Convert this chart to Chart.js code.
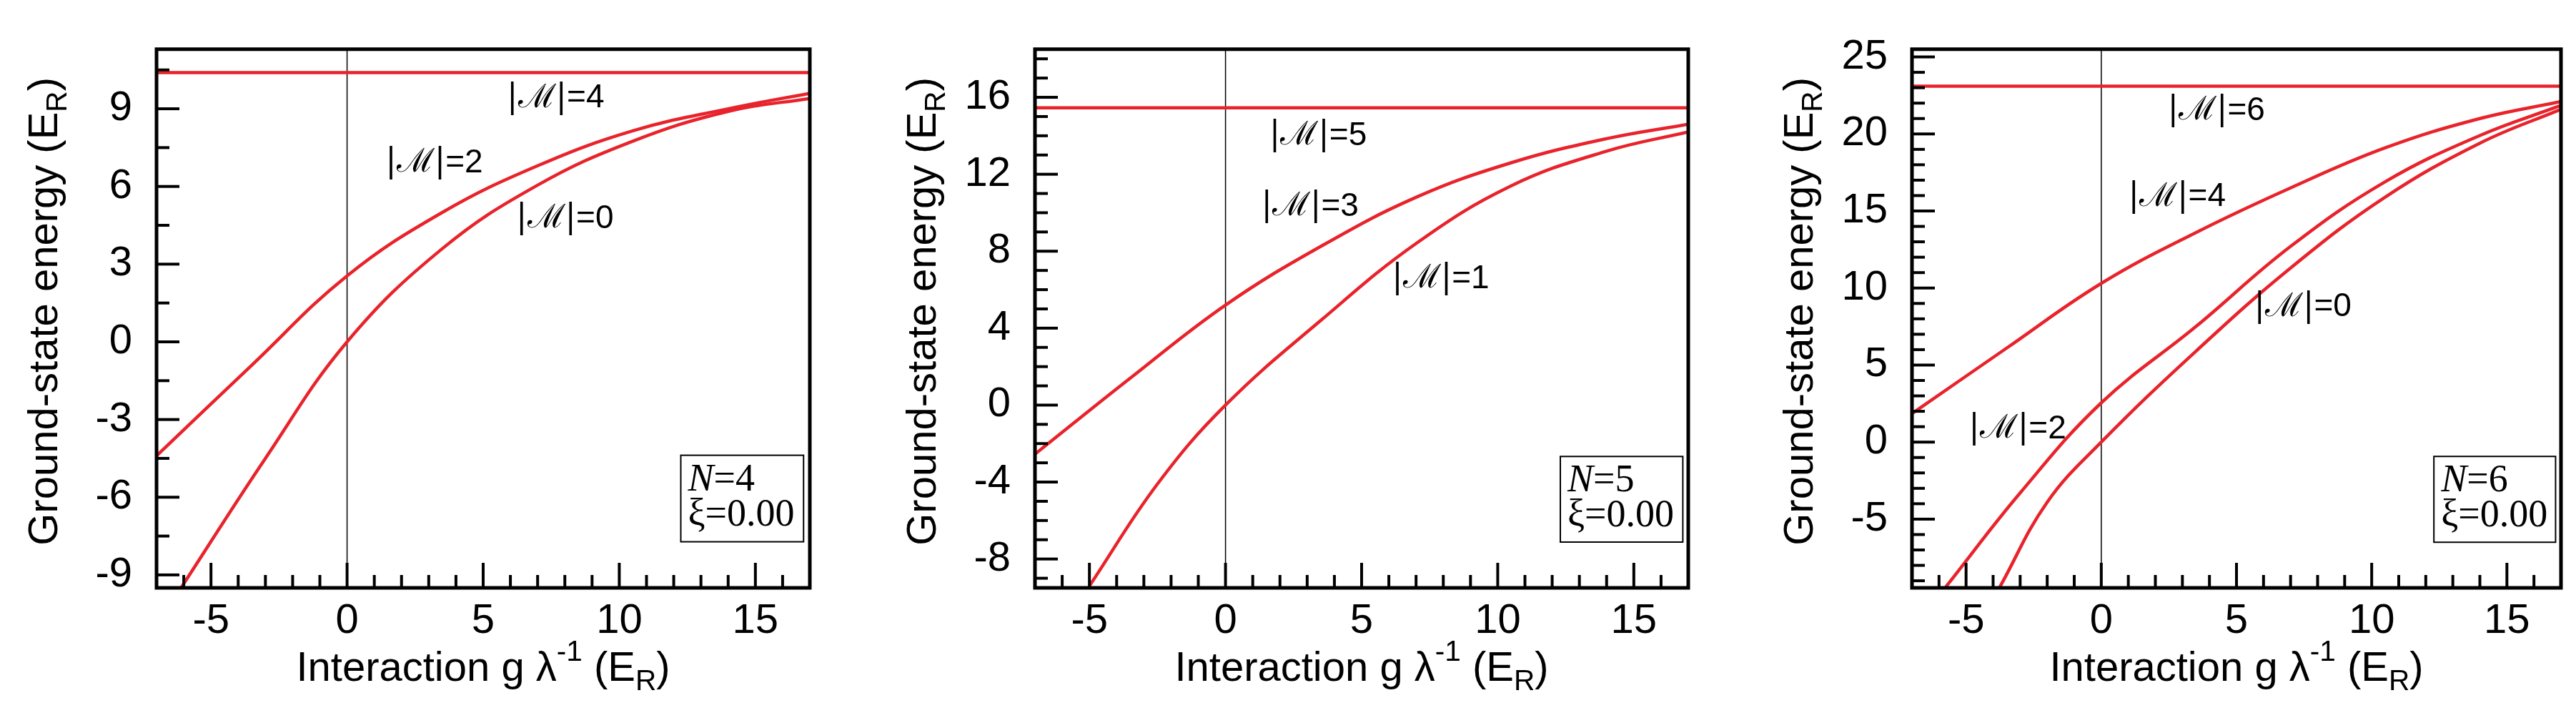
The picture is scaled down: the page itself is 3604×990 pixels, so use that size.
<!DOCTYPE html>
<html>
<head>
<meta charset="utf-8">
<script src="https://cdn.jsdelivr.net/npm/chart.js@4/dist/chart.umd.min.js"></script>
<style>
  body { margin: 0; background: #fff; width: 3604px; height: 990px; position: relative; overflow: hidden; }
  .panel { position: absolute; top: 0; height: 990px; }
</style>
</head>
<body>
<div class="panel" style="left:0;width:1160px"><canvas id="c1"></canvas></div>
<div class="panel" style="left:1160px;width:1230px"><canvas id="c2"></canvas></div>
<div class="panel" style="left:2390px;width:1214px"><canvas id="c3"></canvas></div>
<script>
// --------------------
// Data
// --------------------
const xTicks = [-5, 0, 5, 10, 15];

// N = 4
const n4_m4_x = [-7, 17];
const n4_m4_y = [10.4, 10.4];
const n4_m2_x = [-7, -3.5, 0, 3.5, 7, 10.5, 14, 17];
const n4_m2_y = [-4.4, -0.9, 2.55, 5.0, 6.8, 8.15, 9.0, 9.6];
const n4_m0_x = [-6.1, -3, 0, 3.5, 7, 10.5, 14, 17];
const n4_m0_y = [-9.5, -4.5, 0, 3.6, 6.05, 7.75, 8.9, 9.4];
const yTicks1 = [-9, -6, -3, 0, 3, 6, 9];

// N = 5
const n5_m5_x = [-7, 17];
const n5_m5_y = [15.45, 15.45];
const n5_m3_x = [-7, -3.5, 0, 3.5, 7, 10.5, 14, 17];
const n5_m3_y = [-2.55, 1.4, 5.2, 8.25, 10.8, 12.6, 13.85, 14.6];
const n5_m1_x = [-5, -2.5, 0, 3.5, 7, 10.5, 14, 17];
const n5_m1_y = [-9.4, -4.1, 0, 4.4, 8.4, 11.4, 13.2, 14.2];
const yTicks2 = [-8, -4, 0, 4, 8, 12, 16];

// N = 6
const n6_m6_x = [-7, 17];
const n6_m6_y = [23.1, 23.1];
const n6_m4_x = [-7, -3.5, 0, 3.5, 7, 10.5, 14, 17];
const n6_m4_y = [1.85, 6.1, 10.3, 13.6, 16.5, 19.1, 21.0, 22.1];
const n6_m2_x = [-5.75, -3, 0, 3.5, 7, 10.5, 14, 17];
const n6_m2_y = [-9.4, -3.3, 2.55, 7.5, 12.7, 16.9, 19.9, 21.85];
const n6_m0_x = [-3.75, -2, 0, 3.5, 7, 10.5, 14, 17];
const n6_m0_y = [-9.4, -3.9, 0, 5.9, 11.3, 15.9, 19.4, 21.6];
const yTicks3 = [-5, 0, 5, 10, 15, 20, 25];

const RED = '#e8232b';
const pts = (xs, ys) => xs.map((x, i) => ({ x, y: ys[i] }));

const panels = [
  {
    id: 'c1', left: 219, right: 27, yMin: -9.5, yMax: 11.3, yTicks: yTicks1, yMinor: 1.5,
    series: [pts(n4_m4_x, n4_m4_y), pts(n4_m2_x, n4_m2_y), pts(n4_m0_x, n4_m0_y)],
    labels: [['4', 7.66, 9.4], ['2', 3.2, 6.9], ['0', 8.0, 4.75]],
    box: [12.26, 16.77, -4.38, -7.72], n: '4'
  },
  {
    id: 'c2', left: 288, right: 28, yMin: -9.5, yMax: 18.5, yTicks: yTicks2, yMinor: 1,
    series: [pts(n5_m5_x, n5_m5_y), pts(n5_m3_x, n5_m3_y), pts(n5_m1_x, n5_m1_y)],
    labels: [['5', 3.4, 14.0], ['3', 3.1, 10.3], ['1', 7.9, 6.55]],
    box: [12.3, 16.8, -2.67, -7.12], n: '5'
  },
  {
    id: 'c3', left: 285, right: 21, yMin: -9.46, yMax: 25.5, yTicks: yTicks3, yMinor: 1,
    series: [pts(n6_m6_x, n6_m6_y), pts(n6_m4_x, n6_m4_y), pts(n6_m2_x, n6_m2_y), pts(n6_m0_x, n6_m0_y)],
    labels: [['6', 4.25, 21.5], ['4', 2.8, 15.9], ['0', 7.45, 8.75], ['2', -3.1, 0.85]],
    box: [12.3, 16.8, -0.93, -6.5], n: '6'
  }
];

// text with sub/superscripts, parts: [text, 'n'|'sup'|'sub']
function richText(ctx, parts, size, x, y) {
  let w = 0;
  parts.forEach(([t, k]) => {
    ctx.font = (k === 'n' ? size : size * 0.7) + 'px "Liberation Sans"';
    w += ctx.measureText(t).width;
  });
  let cx = x - w / 2;
  ctx.textAlign = 'left';
  ctx.textBaseline = 'middle';
  parts.forEach(([t, k]) => {
    ctx.font = (k === 'n' ? size : size * 0.7) + 'px "Liberation Sans"';
    const dy = k === 'sup' ? -size * 0.4 : k === 'sub' ? size * 0.3 : 0;
    ctx.fillText(t, cx, y + dy);
    cx += ctx.measureText(t).width;
  });
}

const decor = {
  id: 'decor',
  beforeDatasetsDraw(chart) {
    const { ctx, chartArea: a, scales: { x } } = chart;
    ctx.save();
    ctx.strokeStyle = '#000';
    ctx.lineWidth = 1.5;
    const x0 = x.getPixelForValue(0);
    ctx.beginPath(); ctx.moveTo(x0, a.top); ctx.lineTo(x0, a.bottom); ctx.stroke();
    ctx.restore();
  },
  afterDatasetsDraw(chart, args, opts) {
    const p = opts.panel;
    const { ctx, chartArea: a, scales: { x, y } } = chart;
    ctx.save();
    ctx.strokeStyle = '#000';
    // inward ticks
    ctx.lineWidth = 4;
    for (let v = -7; v <= 17; v += 1) {
      const px = x.getPixelForValue(v);
      const len = v % 5 === 0 ? 35 : 18;
      ctx.beginPath(); ctx.moveTo(px, a.bottom); ctx.lineTo(px, a.bottom - len); ctx.stroke();
    }
    const start = p.yTicks[0] - p.yMinor * Math.ceil((p.yTicks[0] - p.yMin) / p.yMinor);
    for (let v = start; v <= p.yMax + 1e-6; v += p.yMinor) {
      if (v < p.yMin) continue;
      const py = y.getPixelForValue(v);
      const major = p.yTicks.some(t => Math.abs(t - v) < 1e-6);
      ctx.beginPath(); ctx.moveTo(a.left, py); ctx.lineTo(a.left + (major ? 32 : 18), py); ctx.stroke();
    }
    // frame
    ctx.lineWidth = 5;
    ctx.strokeRect(a.left, a.top, a.right - a.left, a.bottom - a.top);

    // curve labels
    ctx.fillStyle = '#000';
    ctx.textBaseline = 'middle';
    const fs = 46;
    p.labels.forEach(([m, lx, ly]) => {
      const px = x.getPixelForValue(lx), py = y.getPixelForValue(ly);
      const t1 = '|ℳ|', t2 = '=' + m;
      ctx.font = fs + 'px "DejaVu Serif"';
      const w1 = ctx.measureText(t1).width;
      ctx.font = fs + 'px "Liberation Sans"';
      const w2 = ctx.measureText(t2).width;
      const sx = px - (w1 + w2) / 2;
      ctx.textAlign = 'left';
      ctx.font = fs + 'px "DejaVu Serif"';
      ctx.fillText(t1, sx, py);
      ctx.font = fs + 'px "Liberation Sans"';
      ctx.fillText(t2, sx + w1, py);
    });

    // N / xi box
    const [bx0, bx1, by0, by1] = p.box;
    const l = x.getPixelForValue(bx0), r = x.getPixelForValue(bx1);
    const t = y.getPixelForValue(by0), b = y.getPixelForValue(by1);
    ctx.fillStyle = '#fff';
    ctx.fillRect(l, t, r - l, b - t);
    ctx.lineWidth = 2;
    ctx.strokeRect(l, t, r - l, b - t);
    ctx.fillStyle = '#000';
    ctx.textAlign = 'left';
    ctx.font = 'italic 54px "Liberation Serif"';
    ctx.fillText('N', l + 10, t + (b - t) * 0.29);
    const nw = ctx.measureText('N').width;
    ctx.font = '54px "Liberation Serif"';
    ctx.fillText('=' + p.n, l + 10 + nw, t + (b - t) * 0.29);
    ctx.fillText('ξ=0.00', l + 10, t + (b - t) * 0.7);

    // axis titles
    richText(ctx, [['Interaction g λ', 'n'], ['-1', 'sup'], [' (E', 'n'], ['R', 'sub'], [')', 'n']],
      58, (a.left + a.right) / 2, 936);
    ctx.save();
    ctx.translate(a.left - 155, (a.top + a.bottom) / 2 - 10);
    ctx.rotate(-Math.PI / 2);
    richText(ctx, [['Ground-state energy (E', 'n'], ['R', 'sub'], [')', 'n']], 58, 0, 0);
    ctx.restore();
    ctx.restore();
  }
};

panels.forEach(p => {
  new Chart(document.getElementById(p.id), {
    type: 'line',
    data: {
      datasets: p.series.map(s => ({
        data: s, borderColor: RED, borderWidth: 4.5, pointRadius: 0,
        tension: 0.4, fill: false
      }))
    },
    options: {
      responsive: true, maintainAspectRatio: false, animation: false,
      layout: { padding: { top: 37, right: p.right, left: 0, bottom: 0 } },
      plugins: { legend: { display: false }, tooltip: { enabled: false }, decor: { panel: p } },
      scales: {
        x: {
          type: 'linear', min: -7, max: 17,
          afterBuildTicks: sc => { sc.ticks = xTicks.map(v => ({ value: v })); },
          afterFit: sc => { sc.height = 168; },
          grid: { display: false, drawTicks: false }, border: { display: false },
          ticks: { padding: 12, color: '#000', font: { family: 'Liberation Sans', size: 58 } }
        },
        y: {
          type: 'linear', min: p.yMin, max: p.yMax,
          afterBuildTicks: sc => { sc.ticks = p.yTicks.map(v => ({ value: v })); },
          afterFit: sc => { sc.width = p.left; },
          grid: { display: false, drawTicks: false }, border: { display: false },
          ticks: { padding: 34, color: '#000', font: { family: 'Liberation Sans', size: 58 } }
        }
      }
    },
    plugins: [decor]
  });
});
</script>
</body>
</html>
